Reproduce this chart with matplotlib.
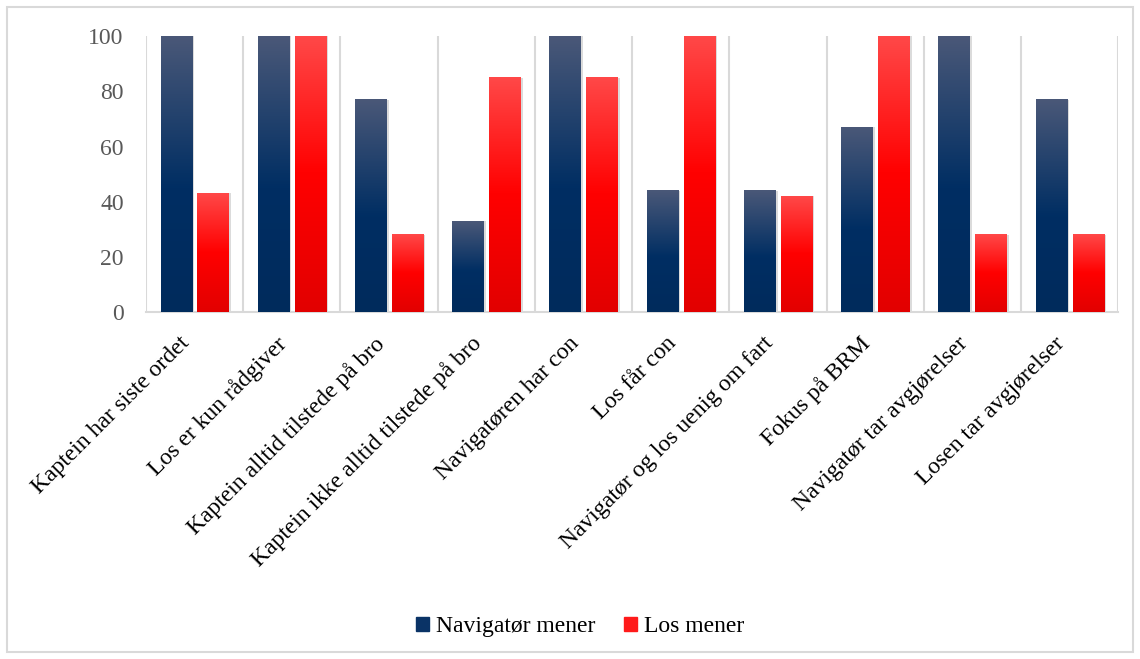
import numpy as np
import matplotlib.pyplot as plt
from matplotlib.colors import LinearSegmentedColormap
from matplotlib.patches import Rectangle

# Data
categories = ["Kaptein har siste ordet", "Los er kun rådgiver", "Kaptein alltid tilstede på bro",
              "Kaptein ikke alltid tilstede på bro", "Navigatøren har con", "Los får con",
              "Navigatør og los uenig om fart", "Fokus på BRM", "Navigatør tar avgjørelser",
              "Losen tar avgjørelser"]
navigator = [100, 100, 77, 33, 100, 44, 44, 67, 100, 77]
los = [43, 100, 28, 85, 85, 100, 42, 100, 28, 28]
series_names = ["Navigatør mener", "Los mener"]

navy_cmap = LinearSegmentedColormap.from_list(
    "navy", [(0, "#4a5878"), (0.55, "#002e63"), (1, "#002b5c")])
red_cmap = LinearSegmentedColormap.from_list(
    "red", [(0, "#ff4848"), (0.5, "#ff0000"), (1, "#e20000")])

fig = plt.figure(figsize=(11.4, 6.59), dpi=100)
ax = fig.add_axes([0.128, 0.5266, 0.853, 0.4184])

x = np.arange(len(categories))
w = 0.32
gap = 0.06
offs = [-(w + gap) / 2, (w + gap) / 2]
grad = np.linspace(0, 1, 256).reshape(-1, 1)

for vals, off, cmap, name in zip([navigator, los], offs, [navy_cmap, red_cmap], series_names):
    # soft shadow
    ax.bar(x + off + 0.025, vals, w, color="#9a9a9a", alpha=0.35, zorder=2, linewidth=0)
    bars = ax.bar(x + off, vals, w, color="none", zorder=3, linewidth=0, label=name)
    for b in bars:
        x0 = b.get_x()
        h = b.get_height()
        ax.imshow(grad, cmap=cmap, extent=[x0, x0 + w, 0, h], aspect="auto",
                  origin="upper", zorder=3, interpolation="bicubic")

ax.set_xlim(-0.5, len(categories) - 0.5)
ax.set_ylim(0, 100)

# vertical lines between categories
for b in np.arange(-0.5, len(categories), 1.0):
    ax.axvline(b, color="#d9d9d9", linewidth=1.5, zorder=1)

for s in ["top", "right", "left"]:
    ax.spines[s].set_visible(False)
ax.spines["bottom"].set_color("#d9d9d9")
ax.spines["bottom"].set_linewidth(1.5)

ax.set_yticks([0, 20, 40, 60, 80, 100])
ax.tick_params(axis="y", length=0, labelsize=17, labelcolor="#595959", pad=16)
ax.tick_params(axis="x", length=0, pad=15)
for lab in ax.get_yticklabels():
    lab.set_fontfamily("Liberation Serif")

ax.set_xticks(x - 0.16)
ax.set_xticklabels(categories, rotation=45, ha="right", rotation_mode="anchor",
                   fontsize=17, fontfamily="Liberation Serif", color="#000000")

# legend with plain proxy patches
handles = [Rectangle((0, 0), 1, 1, color="#0a3366"), Rectangle((0, 0), 1, 1, color="#ff1a1a")]
fig.legend(handles, series_names, loc="center", bbox_to_anchor=(0.509, 0.049), ncol=2,
           frameon=False, prop={"family": "Liberation Serif", "size": 17},
           handlelength=0.55, handleheight=0.55, handletextpad=0.3, columnspacing=1.2)

# outer border
fig.patches.append(Rectangle((0.006, 0.01), 0.988, 0.98, transform=fig.transFigure,
                             fill=False, edgecolor="#d9d9d9", linewidth=1.5))

fig.savefig("out.png", dpi=100)
